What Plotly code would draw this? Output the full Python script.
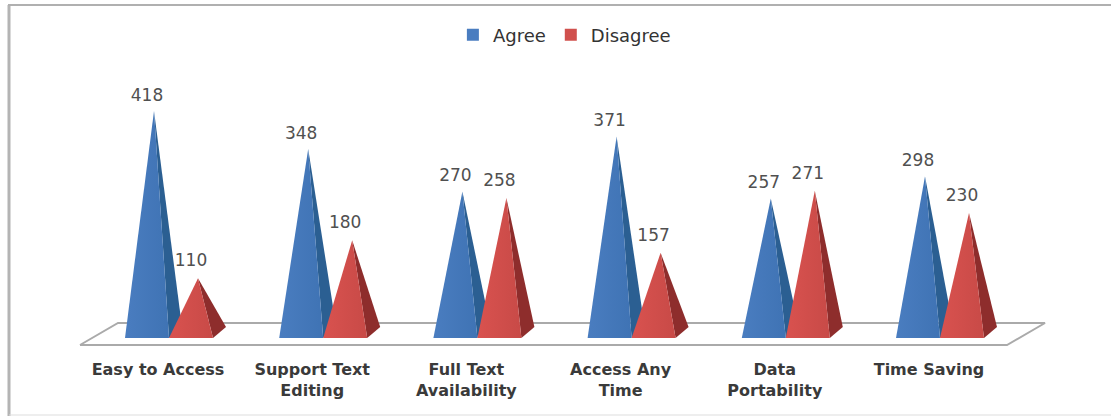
import plotly.graph_objects as go

categories = ["Easy to Access", "Support Text<br>Editing", "Full Text<br>Availability",
              "Access Any<br>Time", "Data<br>Portability", "Time Saving"]
agree = [418, 348, 270, 371, 257, 298]
disagree = [110, 180, 258, 157, 271, 230]

W, H = 1111, 416
PX_X = 154.2
X0_PX = 154
PX_Y = 0.543
BASE_PX = 338
AXIS_BOTTOM_PX = 352
xr = [-X0_PX / PX_X, (W - X0_PX) / PX_X]
yr = [(BASE_PX - AXIS_BOTTOM_PX) / PX_Y, BASE_PX / PX_Y]


def dx(p):
    return p / PX_X


def dy(p):
    return p / PX_Y


fig = go.Figure()

# floor
fx = [dx(80 - X0_PX), dx(118 - X0_PX), dx(1045 - X0_PX), dx(1007 - X0_PX), dx(80 - X0_PX)]
fy = [dy(-7), dy(15), dy(15), dy(-7), dy(-7)]
fig.add_trace(go.Scatter(x=fx, y=fy, mode="lines", line=dict(color="#aaaaaa", width=2),
                         showlegend=False, hoverinfo="skip"))


def pyramids(values, shift, front_cols, side_col):
    for i, v in enumerate(values):
        c = i + dx(shift)
        fig.add_trace(go.Scatter(
            x=[c, c + dx(15), c + dx(28), c],
            y=[v, 0, dy(11), v],
            mode="lines", line=dict(width=0), fill="toself", fillcolor=side_col,
            showlegend=False, hoverinfo="skip"))
        fig.add_trace(go.Scatter(
            x=[c - dx(29), c + dx(15), c, c - dx(29)],
            y=[0, 0, v, 0],
            mode="lines", line=dict(width=0), fill="toself",
            fillgradient=dict(type="horizontal",
                              colorscale=[[0, front_cols[0]], [1, front_cols[1]]]),
            showlegend=False, hoverinfo="skip"))


pyramids(agree, 0, ("#4a7dc0", "#3f73b4"), "#2b5f92")
pyramids(disagree, 44, ("#d9524f", "#c84a47"), "#8e2d2c")

for vals, shift, lift in ((agree, 0, 6), (disagree, 44, 8)):
    fig.add_trace(go.Scatter(
        x=[i + dx(shift - 7) for i in range(len(vals))],
        y=[v + dy(lift) for v in vals],
        mode="text", text=[str(v) for v in vals], textposition="top center",
        textfont=dict(family="DejaVu Sans", size=17, color="#505050"),
        showlegend=False, hoverinfo="skip"))

for name, col in (("Agree", "#4a7dc0"), ("Disagree", "#d0504d")):
    fig.add_trace(go.Scatter(x=[None], y=[None], mode="markers", name=name,
                             marker=dict(symbol="square", size=12, color=col)))


def border(x0, y0, x1, y1, color, width):
    return dict(type="line", xref="paper", yref="paper",
                x0=x0 / W, x1=x1 / W,
                y0=(AXIS_BOTTOM_PX - y0) / AXIS_BOTTOM_PX,
                y1=(AXIS_BOTTOM_PX - y1) / AXIS_BOTTOM_PX,
                line=dict(color=color, width=width), layer="below")


fig.update_layout(
    width=W, height=H, autosize=False,
    margin=dict(l=0, r=0, t=0, b=H - AXIS_BOTTOM_PX, pad=0),
    paper_bgcolor="white", plot_bgcolor="white",
    xaxis=dict(range=xr, tickmode="array",
               tickvals=[i + dx(4) for i in range(len(categories))],
               ticktext=categories, showgrid=False, zeroline=False, showline=False,
               ticks="", ticklabelstandoff=6,
               tickfont=dict(family="DejaVu Sans", size=16, color="#3a3a3a", weight="bold")),
    yaxis=dict(range=yr, visible=False),
    legend=dict(orientation="h", x=0.508, xanchor="center", y=1 - 35 / AXIS_BOTTOM_PX,
                yanchor="middle", yref="paper", itemwidth=30,
                font=dict(family="DejaVu Sans", size=18, color="#333333"),
                bgcolor="rgba(0,0,0,0)"),
    shapes=[border(9, 5, 9, 416, "#b4b4b4", 3),
            border(8, 5, 1111, 5, "#b0b0b0", 2),
            border(9, 415, 1111, 415, "#dddddd", 1)],
)
fig.write_html("out.html", config={"displayModeBar": False},
               post_script="document.body.style.margin='0';")
